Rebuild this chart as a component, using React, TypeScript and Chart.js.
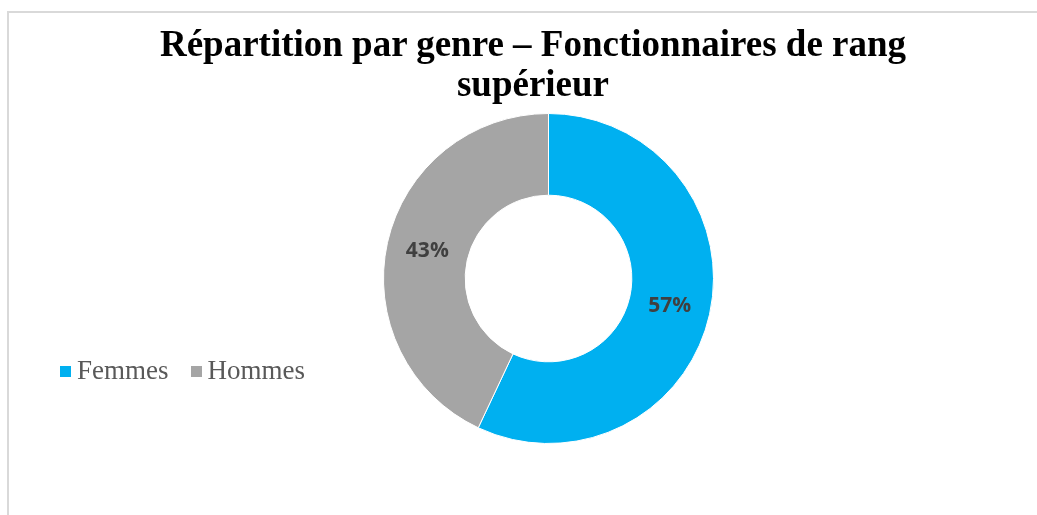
import React, { useEffect, useRef } from "react";
import { Chart, registerables } from "chart.js";

Chart.register(...registerables);

const TITLE_LINES = ["Répartition par genre – Fonctionnaires de rang", "supérieur"];
const CATEGORIES = ["Femmes", "Hommes"];
const VALUES = [57, 43];
const COLORS = ["#00B0F0", "#A5A5A5"];

const W = 1037;
const H = 515;

const labelPlugin = {
  id: "sliceLabels",
  afterDatasetsDraw(chart: any) {
    const ctx = chart.ctx;
    const meta = chart.getDatasetMeta(0);
    const data = chart.data.datasets[0].data as number[];
    const total = data.reduce((a, b) => a + b, 0);
    ctx.save();
    ctx.font = "bold 21px 'Open Sans'";
    ctx.fillStyle = "#404040";
    ctx.textAlign = "center";
    ctx.textBaseline = "middle";
    meta.data.forEach((arc: any, i: number) => {
      const p = arc.getCenterPoint();
      const pct = Math.round((data[i] / total) * 100);
      ctx.fillText(pct + "%", p.x, p.y);
    });
    ctx.restore();
  },
};

export default function App() {
  const ref = useRef<HTMLCanvasElement>(null);

  useEffect(() => {
    if (!ref.current) return;
    const chart = new Chart(ref.current, {
      type: "doughnut",
      data: {
        labels: CATEGORIES,
        datasets: [
          {
            data: VALUES,
            backgroundColor: COLORS,
            borderColor: "#ffffff",
            borderWidth: 1,
            hoverOffset: 0,
            offset: 0,
          },
        ],
      },
      options: {
        responsive: false,
        animation: false,
        cutout: "50.5%",
        layout: { padding: { left: 383, right: 323, top: 113, bottom: 71 } },
        plugins: {
          legend: { display: false },
          title: { display: false },
          tooltip: { enabled: false },
        },
        events: [],
      },
      plugins: [labelPlugin],
    });
    return () => chart.destroy();
  }, []);

  return (
    <div
      style={{
        position: "fixed",
        left: 0,
        top: 0,
        width: W,
        height: H,
        background: "#ffffff",
        overflow: "hidden",
      }}
    >
      <div
        style={{
          position: "absolute",
          left: 7,
          top: 11,
          width: W,
          height: H,
          borderLeft: "2px solid #d9d9d9",
          borderTop: "2px solid #d9d9d9",
        }}
      />
      <canvas ref={ref} width={W} height={H} style={{ position: "absolute", left: 0, top: 0 }} />
      <div
        style={{
          position: "absolute",
          left: 533 - 450,
          top: 24,
          width: 900,
          textAlign: "center",
          fontFamily: "'Liberation Serif', 'Times New Roman', serif",
          fontWeight: "bold",
          fontSize: 37,
          lineHeight: "40px",
          color: "#000000",
        }}
      >
        {TITLE_LINES.map((t, i) => (
          <div key={i}>{t}</div>
        ))}
      </div>
      <div
        style={{
          position: "absolute",
          left: 60,
          top: 355,
          display: "flex",
          alignItems: "center",
          fontFamily: "'Liberation Serif', 'Times New Roman', serif",
          fontSize: 27,
          color: "#595959",
          lineHeight: "30px",
          whiteSpace: "nowrap",
        }}
      >
        {CATEGORIES.map((c, i) => (
          <div key={c} style={{ display: "flex", alignItems: "center", marginRight: 22 }}>
            <span
              style={{
                display: "inline-block",
                width: 11,
                height: 11,
                background: COLORS[i],
                marginRight: 6,
                position: "relative",
                top: 1,
              }}
            />
            <span>{c}</span>
          </div>
        ))}
      </div>
    </div>
  );
}
